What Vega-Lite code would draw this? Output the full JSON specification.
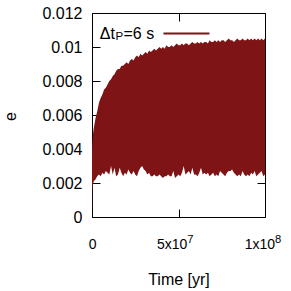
{
  "$schema": "https://vega.github.io/schema/vega-lite/v6.json",
  "width": 173,
  "height": 204,
  "autosize": "none",
  "padding": {"left": 92, "top": 13, "right": 26, "bottom": 74},
  "config": {
    "font": "Liberation Sans",
    "background": "white",
    "view": {"stroke": "#000", "strokeWidth": 1},
    "axis": {
      "grid": false,
      "domain": false,
      "tickColor": "#000",
      "tickWidth": 1,
      "tickSize": -8,
      "labelFont": "Liberation Sans",
      "labelFontSize": 16,
      "labelColor": "#000",
      "titleFont": "Liberation Sans",
      "titleFontSize": 16,
      "titleFontWeight": "normal",
      "titleColor": "#000"
    },
    "text": {"font": "Liberation Sans", "color": "#000", "baseline": "alphabetic"}
  },
  "data": {
    "values": [
      {"t": 0, "lo": 0.0, "hi": 0.0040},
      {"t": 3e5, "lo": 0.0017, "hi": 0.0045},
      {"t": 6e5, "lo": 0.0019, "hi": 0.0049},
      {"t": 1e6, "lo": 0.0021, "hi": 0.0052},
      {"t": 2e6, "lo": 0.0022, "hi": 0.0058},
      {"t": 3e6, "lo": 0.0024, "hi": 0.0062},
      {"t": 4e6, "lo": 0.0025, "hi": 0.0067},
      {"t": 5e6, "lo": 0.0024, "hi": 0.0070},
      {"t": 6e6, "lo": 0.0026, "hi": 0.0072},
      {"t": 7e6, "lo": 0.0025, "hi": 0.0075},
      {"t": 8e6, "lo": 0.0027, "hi": 0.0076},
      {"t": 9e6, "lo": 0.0026, "hi": 0.0078},
      {"t": 10e6, "lo": 0.0025, "hi": 0.0080},
      {"t": 11e6, "lo": 0.0030, "hi": 0.0081},
      {"t": 12e6, "lo": 0.0025, "hi": 0.0083},
      {"t": 13e6, "lo": 0.0029, "hi": 0.0084},
      {"t": 14e6, "lo": 0.0024, "hi": 0.0086},
      {"t": 15e6, "lo": 0.0025, "hi": 0.0087},
      {"t": 16e6, "lo": 0.0029, "hi": 0.0087},
      {"t": 17e6, "lo": 0.0026, "hi": 0.0089},
      {"t": 18e6, "lo": 0.0024, "hi": 0.0089},
      {"t": 19e6, "lo": 0.0026, "hi": 0.0090},
      {"t": 20e6, "lo": 0.0025, "hi": 0.0091},
      {"t": 21e6, "lo": 0.0028, "hi": 0.0090},
      {"t": 22e6, "lo": 0.0026, "hi": 0.0092},
      {"t": 23e6, "lo": 0.0025, "hi": 0.0093},
      {"t": 24e6, "lo": 0.0027, "hi": 0.0092},
      {"t": 25e6, "lo": 0.0025, "hi": 0.0094},
      {"t": 26e6, "lo": 0.0024, "hi": 0.0095},
      {"t": 27e6, "lo": 0.0027, "hi": 0.0094},
      {"t": 28e6, "lo": 0.0029, "hi": 0.0096},
      {"t": 29e6, "lo": 0.0030, "hi": 0.0095},
      {"t": 30e6, "lo": 0.0028, "hi": 0.0096},
      {"t": 31e6, "lo": 0.0027, "hi": 0.0097},
      {"t": 32e6, "lo": 0.0025, "hi": 0.0096},
      {"t": 33e6, "lo": 0.0026, "hi": 0.0098},
      {"t": 34e6, "lo": 0.0024, "hi": 0.0097},
      {"t": 35e6, "lo": 0.0024, "hi": 0.0098},
      {"t": 36e6, "lo": 0.0025, "hi": 0.0099},
      {"t": 37e6, "lo": 0.0024, "hi": 0.0098},
      {"t": 38e6, "lo": 0.0024, "hi": 0.0099},
      {"t": 39e6, "lo": 0.0025, "hi": 0.0100},
      {"t": 40e6, "lo": 0.0024, "hi": 0.0099},
      {"t": 41e6, "lo": 0.0023, "hi": 0.0100},
      {"t": 42e6, "lo": 0.0024, "hi": 0.0099},
      {"t": 43e6, "lo": 0.0024, "hi": 0.0101},
      {"t": 44e6, "lo": 0.0025, "hi": 0.0100},
      {"t": 45e6, "lo": 0.0024, "hi": 0.0100},
      {"t": 46e6, "lo": 0.0024, "hi": 0.0101},
      {"t": 47e6, "lo": 0.0027, "hi": 0.0100},
      {"t": 48e6, "lo": 0.0023, "hi": 0.0101},
      {"t": 49e6, "lo": 0.0024, "hi": 0.0102},
      {"t": 50e6, "lo": 0.0025, "hi": 0.0101},
      {"t": 51e6, "lo": 0.0024, "hi": 0.0101},
      {"t": 52e6, "lo": 0.0026, "hi": 0.0102},
      {"t": 53e6, "lo": 0.0030, "hi": 0.0101},
      {"t": 54e6, "lo": 0.0025, "hi": 0.0102},
      {"t": 55e6, "lo": 0.0026, "hi": 0.0102},
      {"t": 56e6, "lo": 0.0027, "hi": 0.0101},
      {"t": 57e6, "lo": 0.0025, "hi": 0.0102},
      {"t": 58e6, "lo": 0.0029, "hi": 0.0103},
      {"t": 59e6, "lo": 0.0025, "hi": 0.0102},
      {"t": 60e6, "lo": 0.0025, "hi": 0.0102},
      {"t": 61e6, "lo": 0.0024, "hi": 0.0103},
      {"t": 62e6, "lo": 0.0026, "hi": 0.0102},
      {"t": 63e6, "lo": 0.0029, "hi": 0.0103},
      {"t": 64e6, "lo": 0.0025, "hi": 0.0102},
      {"t": 65e6, "lo": 0.0026, "hi": 0.0103},
      {"t": 66e6, "lo": 0.0025, "hi": 0.0103},
      {"t": 67e6, "lo": 0.0026, "hi": 0.0102},
      {"t": 68e6, "lo": 0.0024, "hi": 0.0104},
      {"t": 69e6, "lo": 0.0025, "hi": 0.0103},
      {"t": 70e6, "lo": 0.0026, "hi": 0.0103},
      {"t": 71e6, "lo": 0.0024, "hi": 0.0104},
      {"t": 72e6, "lo": 0.0025, "hi": 0.0103},
      {"t": 73e6, "lo": 0.0024, "hi": 0.0104},
      {"t": 74e6, "lo": 0.0027, "hi": 0.0103},
      {"t": 75e6, "lo": 0.0026, "hi": 0.0104},
      {"t": 76e6, "lo": 0.0025, "hi": 0.0104},
      {"t": 77e6, "lo": 0.0024, "hi": 0.0103},
      {"t": 78e6, "lo": 0.0026, "hi": 0.0104},
      {"t": 79e6, "lo": 0.0027, "hi": 0.0105},
      {"t": 80e6, "lo": 0.0027, "hi": 0.0104},
      {"t": 81e6, "lo": 0.0028, "hi": 0.0104},
      {"t": 82e6, "lo": 0.0026, "hi": 0.0103},
      {"t": 83e6, "lo": 0.0025, "hi": 0.0104},
      {"t": 84e6, "lo": 0.0024, "hi": 0.0105},
      {"t": 85e6, "lo": 0.0025, "hi": 0.0104},
      {"t": 86e6, "lo": 0.0024, "hi": 0.0104},
      {"t": 87e6, "lo": 0.0027, "hi": 0.0105},
      {"t": 88e6, "lo": 0.0025, "hi": 0.0104},
      {"t": 89e6, "lo": 0.0024, "hi": 0.0104},
      {"t": 90e6, "lo": 0.0025, "hi": 0.0105},
      {"t": 91e6, "lo": 0.0024, "hi": 0.0104},
      {"t": 92e6, "lo": 0.0026, "hi": 0.0105},
      {"t": 93e6, "lo": 0.0025, "hi": 0.0104},
      {"t": 94e6, "lo": 0.0027, "hi": 0.0105},
      {"t": 95e6, "lo": 0.0024, "hi": 0.0104},
      {"t": 96e6, "lo": 0.0025, "hi": 0.0105},
      {"t": 97e6, "lo": 0.0026, "hi": 0.0104},
      {"t": 98e6, "lo": 0.0027, "hi": 0.0105},
      {"t": 99e6, "lo": 0.0024, "hi": 0.0104},
      {"t": 100e6, "lo": 0.0025, "hi": 0.0105}
    ]
  },
  "layer": [
    {
      "mark": {"type": "area", "color": "#7e1416"},
      "encoding": {
        "x": {
          "field": "t",
          "type": "quantitative",
          "scale": {"domain": [0, 100000000], "nice": false, "zero": false},
          "axis": {
            "values": [0, 50000000, 100000000],
            "labels": false,
            "title": "Time [yr]",
            "titleBaseline": "alphabetic",
            "titleY": 67
          }
        },
        "y": {
          "field": "lo",
          "type": "quantitative",
          "scale": {"domain": [0, 0.012], "nice": false},
          "axis": {
            "values": [0, 0.002, 0.004, 0.006, 0.008, 0.01, 0.012],
            "format": "~g",
            "labelPadding": 18,
            "title": "e",
            "titleX": -82,
            "titleY": 103,
            "titleAngle": 270,
            "titleAlign": "center",
            "titleBaseline": "middle"
          }
        },
        "y2": {"field": "hi"}
      }
    },
    {
      "mark": {"type": "point", "opacity": 0},
      "encoding": {
        "x": {
          "field": "t",
          "type": "quantitative",
          "axis": {"orient": "top", "values": [0, 50000000, 100000000], "labels": false, "title": null}
        },
        "y": {
          "field": "hi",
          "type": "quantitative",
          "axis": {"orient": "right", "values": [0, 0.002, 0.004, 0.006, 0.008, 0.01, 0.012], "labels": false, "title": null}
        }
      }
    },
    {
      "data": {"values": [{"label": "0", "t": 400000}]},
      "mark": {"type": "text", "align": "center", "fontSize": 14},
      "encoding": {
        "text": {"field": "label"},
        "x": {"field": "t", "type": "quantitative", "axis": null},
        "y": {"datum": -0.00188, "type": "quantitative", "axis": null}
      }
    },
    {
      "data": {"values": [{"label": "5x10", "t": 55100000}, {"label": "1x10", "t": 105800000}]},
      "mark": {"type": "text", "align": "right", "fontSize": 14},
      "encoding": {
        "text": {"field": "label"},
        "x": {"field": "t", "type": "quantitative", "axis": null},
        "y": {"datum": -0.00188, "type": "quantitative", "axis": null}
      }
    },
    {
      "data": {"values": [{"label": "7", "t": 55100000}, {"label": "8", "t": 105800000}]},
      "mark": {"type": "text", "align": "left", "fontSize": 11.2},
      "encoding": {
        "text": {"field": "label"},
        "x": {"field": "t", "type": "quantitative", "axis": null},
        "y": {"datum": -0.00155, "type": "quantitative", "axis": null}
      }
    },
    {
      "data": {"values": [{"label": "Δt"}]},
      "mark": {"type": "text", "align": "left", "fontSize": 16},
      "encoding": {
        "text": {"field": "label"},
        "x": {"datum": 4500000, "type": "quantitative", "axis": null},
        "y": {"datum": 0.01049, "type": "quantitative", "axis": null}
      }
    },
    {
      "data": {"values": [{"label": "P"}]},
      "mark": {"type": "text", "align": "left", "fontSize": 11.5},
      "encoding": {
        "text": {"field": "label"},
        "x": {"datum": 13600000, "type": "quantitative", "axis": null},
        "y": {"datum": 0.01039, "type": "quantitative", "axis": null}
      }
    },
    {
      "data": {"values": [{"label": "=6 s"}]},
      "mark": {"type": "text", "align": "left", "fontSize": 16},
      "encoding": {
        "text": {"field": "label"},
        "x": {"datum": 18200000, "type": "quantitative", "axis": null},
        "y": {"datum": 0.01049, "type": "quantitative", "axis": null}
      }
    },
    {
      "data": {"values": [{"series": "Δt_P=6 s"}]},
      "mark": {"type": "rule", "color": "#7e1416", "strokeWidth": 2},
      "encoding": {
        "x": {"datum": 41300000, "type": "quantitative", "axis": null},
        "x2": {"datum": 67900000},
        "y": {"datum": 0.01079, "type": "quantitative", "axis": null}
      }
    }
  ],
  "resolve": {"axis": {"x": "independent", "y": "independent"}}
}
